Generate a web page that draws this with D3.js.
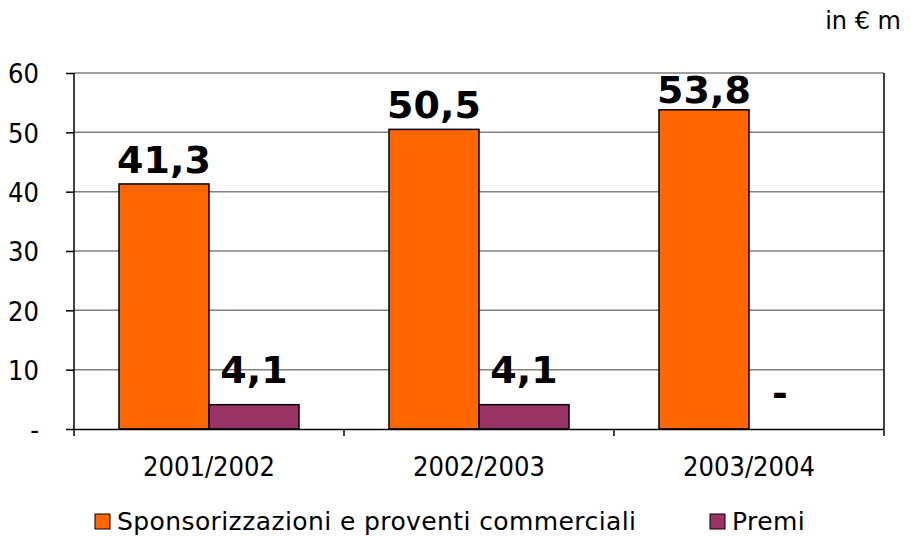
<!DOCTYPE html>
<html>
<head>
<meta charset="utf-8">
<script src="https://cdn.jsdelivr.net/npm/d3@7"></script>
<style>
  body { margin: 0; background: #fff; }
  text { font-family: "DejaVu Sans", Verdana, sans-serif; }
</style>
</head>
<body>
<div id="chart"></div>
<script>
// ----- Bar Chart -----

const seasons = ["2001/2002", "2002/2003", "2003/2004"];
const seriesNames = ["Sponsorizzazioni e proventi commerciali", "Premi"];
const sponsorValues = [41.3, 50.5, 53.8];
const premiValues = [4.1, 4.1, 0];
const yTicks = [0, 10, 20, 30, 40, 50, 60];
const colors = ["#FF6600", "#993366"];

const width = 911, height = 537;
const margin = { top: 73, right: 27, bottom: 108, left: 74 };
const innerW = width - margin.left - margin.right;
const innerH = height - margin.top - margin.bottom;

const svg = d3.select("#chart")
    .append("svg")
    .attr("width", width)
    .attr("height", height);

const g = svg.append("g")
    .attr("transform", `translate(${margin.left},${margin.top})`);

const x0 = d3.scaleBand().domain(seasons).range([0, innerW]).paddingInner(0).paddingOuter(0);
const x1 = d3.scaleBand().domain(seriesNames).range([0, x0.bandwidth()]).paddingInner(0).paddingOuter(0.5);
const y = d3.scaleLinear().domain([0, 60]).range([innerH, 0]);

// gridlines
g.selectAll(".grid")
    .data(yTicks.slice(1))
    .enter().append("line")
    .attr("x1", 0).attr("x2", innerW)
    .attr("y1", d => y(d)).attr("y2", d => y(d))
    .style("stroke", "#808080")
    .style("stroke-width", 1.5);

// right border
g.append("line")
    .attr("x1", innerW).attr("x2", innerW)
    .attr("y1", 0).attr("y2", innerH)
    .style("stroke", "#000").style("stroke-width", 1.5);

const data = seasons.map((s, i) => ({ season: s, values: [sponsorValues[i], premiValues[i]] }));

const groups = g.selectAll(".group")
    .data(data)
    .enter().append("g")
    .attr("transform", d => `translate(${x0(d.season)},0)`);

groups.selectAll("rect")
    .data(d => d.values.map((v, j) => ({ name: seriesNames[j], v, j })).filter(e => e.v > 0))
    .enter().append("rect")
    .attr("x", d => x1(d.name))
    .attr("y", d => y(d.v))
    .attr("width", x1.bandwidth())
    .attr("height", d => innerH - y(d.v))
    .style("fill", d => colors[d.j])
    .style("stroke", "#000")
    .style("stroke-width", 1.5);

// value labels
const fmt = v => v === 0 ? "-" : d3.format(".1f")(v).replace(".", ",");
const labelOffset = [11, 22];
groups.selectAll(".lbl")
    .data(d => d.values.map((v, j) => ({ name: seriesNames[j], v, j })))
    .enter().append("text")
    .attr("x", d => x1(d.name) + x1.bandwidth() / 2 + (d.v === 0 ? -14 : 0))
    .attr("y", d => d.v === 0 ? y(0) - 23 : Math.max(y(d.v) - labelOffset[d.j], 30))
    .attr("text-anchor", "middle")
    .style("font-size", "38px")
    .style("font-weight", "bold")
    .style("fill", "#000")
    .text(d => fmt(d.v));

// y axis
const yAxis = g.append("g")
    .call(d3.axisLeft(y).tickValues(yTicks).tickSize(8).tickPadding(27)
        .tickFormat(d => d === 0 ? "-" : d));
yAxis.select(".domain").attr("d", `M0,0V${innerH}`).style("stroke-width", 1.5);
yAxis.selectAll(".tick line").style("stroke-width", 1.5);
yAxis.selectAll("text")
    .style("font-family", "'DejaVu Sans Condensed', 'DejaVu Sans', sans-serif")
    .style("font-size", "27px").style("fill", "#000")
    .attr("dy", "0.36em");

// x axis
const xAxis = g.append("g")
    .attr("transform", `translate(0,${innerH})`)
    .call(d3.axisBottom(x0).tickSize(0).tickPadding(28));
xAxis.select(".domain").style("stroke-width", 1.5);
xAxis.selectAll("text")
    .style("font-family", "'DejaVu Sans Condensed', 'DejaVu Sans', sans-serif")
    .style("font-size", "27px").style("fill", "#000")
    .attr("dy", "0.71em");

// category separators
g.selectAll(".sep")
    .data(seasons.concat(["end"]))
    .enter().append("line")
    .attr("x1", (d, i) => i * x0.step()).attr("x2", (d, i) => i * x0.step())
    .attr("y1", innerH).attr("y2", innerH + 7)
    .style("stroke", "#000").style("stroke-width", 1.5);

// unit label
svg.append("text")
    .attr("x", 901).attr("y", 29)
    .attr("text-anchor", "end")
    .style("font-size", "24px")
    .text("in € m");

// legend
const legendX = [95, 710];
const legend = svg.append("g")
    .selectAll("g")
    .data(seriesNames)
    .enter().append("g")
    .attr("transform", (d, i) => `translate(${legendX[i]},514)`);

legend.append("rect")
    .attr("width", 15).attr("height", 15)
    .style("fill", (d, i) => colors[i])
    .style("stroke", "#000").style("stroke-width", 1);

legend.append("text")
    .attr("x", 22).attr("y", 16)
    .style("font-size", "25px")
    .style("letter-spacing", "0.4px")
    .text(d => d);
</script>
</body>
</html>
